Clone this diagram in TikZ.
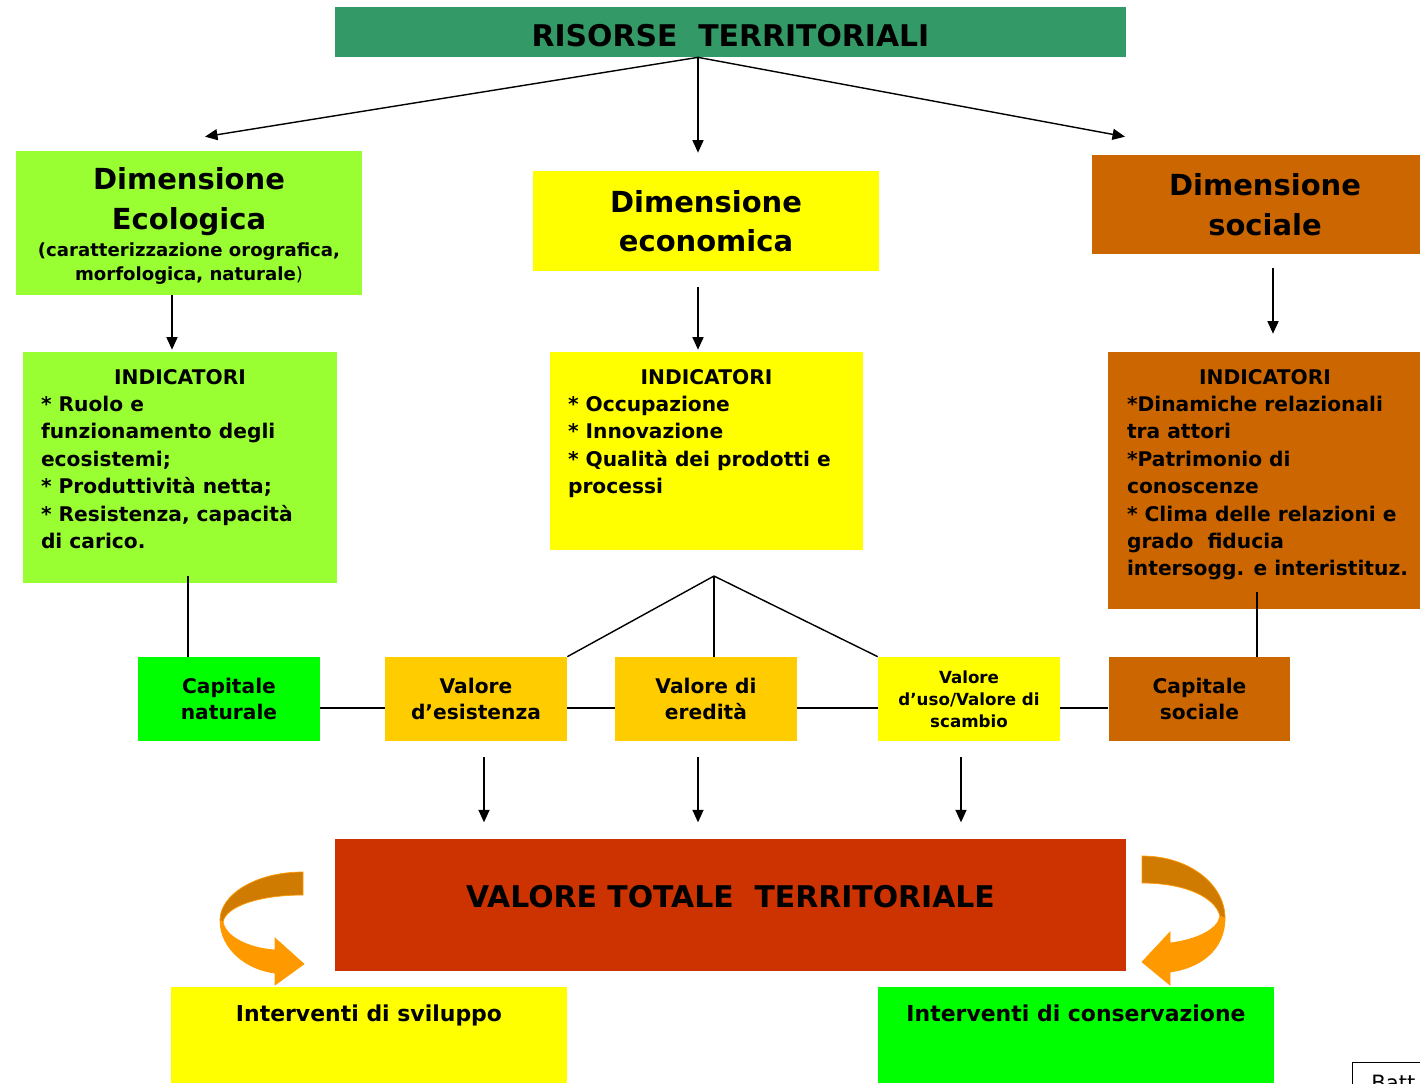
\documentclass[tikz,border=0pt]{standalone}
\usepackage{fontspec}
\setmainfont{DejaVu Sans}
\usetikzlibrary{calc,arrows.meta}
\definecolor{titlegreen}{HTML}{339966}
\definecolor{ecogreen}{HTML}{99FF33}
\definecolor{ecoyellow}{HTML}{FFFF00}
\definecolor{socbrown}{HTML}{CC6600}
\definecolor{natgreen}{HTML}{00FF00}
\definecolor{valorange}{HTML}{FFCC00}
\definecolor{totred}{HTML}{CC3300}
\definecolor{banddark}{HTML}{CF7A00}
\definecolor{bandlight}{HTML}{FF9900}
\tikzset{
	box/.style={rectangle, inner sep=0pt, align=center, font=\bfseries\fontsize{11.5}{14.7}\selectfont},
	txt/.style={inner sep=0pt, align=center, font=\bfseries\fontsize{11.5}{14.7}\selectfont},
	bigtxt/.style={font=\bfseries\fontsize{17}{22}\selectfont},
	dimtxt/.style={font=\bfseries\fontsize{16.5}{22.5}\selectfont},
	subtxt/.style={font=\bfseries\fontsize{10.3}{13.8}\selectfont},
	listtxt/.style={inner sep=0pt, align=left, font=\bfseries\fontsize{11.5}{15.6}\selectfont},
	link/.style={line width=0.8pt},
	arr/.style={line width=0.8pt, -{Triangle[length=0.25cm,width=0.22cm]}},
	band/.style={draw=bandlight, line width=0.4pt}
}

\begin{document}
\begin{tikzpicture}[x=0.02cm, y=-0.02cm]
	%%%%% START %%%%%
	\useasboundingbox (0,0) rectangle (1420,1083);
	\clip (0,0) rectangle (1420,1083);
	
	\node[box, fill=titlegreen, minimum width=15.82cm, minimum height=1cm] (title) at (730.5,32) {};
	\node[txt, bigtxt] (titlet) at ($(title.center)+(0,4)$) {RISORSE\ \ TERRITORIALI};
	
	\node[box, fill=ecogreen, minimum width=6.92cm, minimum height=2.88cm] (dimeco) at (189,223) {};
	\node[txt, dimtxt] (dimecot) at ($(dimeco.north)+(0,51)$) {Dimensione\\Ecologica};
	\node[txt, subtxt] (dimecos) at ($(dimeco.north)+(0,113)$) {(caratterizzazione orografica,\\morfologica, naturale{\mdseries)}};
	
	\node[box, fill=ecoyellow, minimum width=6.92cm, minimum height=2cm] (dimecon) at (706,221) {};
	\node[txt, dimtxt] (dimecont) at (dimecon.center) {Dimensione\\economica};
	
	\node[box, fill=socbrown, minimum width=6.92cm, minimum height=1.98cm] (dimsoc) at (1265,204.5) {};
	\node[txt, dimtxt] (dimsoct) at (dimsoc.center) {Dimensione\\sociale};
	
	%%%%% INDICATORI %%%%%
	\node[box, fill=ecogreen, minimum width=6.28cm, minimum height=4.62cm] (indeco) at (180,467.5) {};
	\node[txt, anchor=north] (indecoh) at ($(indeco.north)+(0,17)$) {INDICATORI};
	\node[listtxt, anchor=north west] (indecol) at ($(indeco.north west)+(18,44)$)
		{* Ruolo e\\funzionamento degli\\ecosistemi;\\* Produttività netta;\\* Resistenza, capacità\\di carico.};
	
	\node[box, fill=ecoyellow, minimum width=6.26cm, minimum height=3.96cm] (indecon) at (706.5,451) {};
	\node[txt, anchor=north] (indeconh) at ($(indecon.north)+(0,17)$) {INDICATORI};
	\node[listtxt, anchor=north west] (indeconl) at ($(indecon.north west)+(18,44)$)
		{* Occupazione\\* Innovazione\\* Qualità dei prodotti e\\processi};
	
	\node[box, fill=socbrown, minimum width=6.28cm, minimum height=5.14cm] (indsoc) at (1265,480.5) {};
	\node[txt, anchor=north] (indsoch) at ($(indsoc.north)+(0,17)$) {INDICATORI};
	\node[listtxt, anchor=north west] (indsocl) at ($(indsoc.north west)+(19,44)$)
		{*Dinamiche relazionali\\tra attori\\*Patrimonio di\\conoscenze\\* Clima delle relazioni e\\grado\ \ fiducia\\intersogg. e interistituz.};
	
	%%%%% CAPITALE E VALORI %%%%%
	\node[box, fill=natgreen, minimum width=3.64cm, minimum height=1.68cm] (capnat) at (229,699) {Capitale\\naturale};
	\node[box, fill=valorange, minimum width=3.64cm, minimum height=1.68cm] (valesi) at (476,699) {Valore\\d’esistenza};
	\node[box, fill=valorange, minimum width=3.64cm, minimum height=1.68cm] (valere) at (706,699) {Valore di\\eredità};
	\node[box, fill=ecoyellow, minimum width=3.64cm, minimum height=1.68cm, font=\bfseries\fontsize{9.5}{12.5}\selectfont] (valuso) at (969,699) {Valore\\d’uso/Valore di\\scambio};
	\node[box, fill=socbrown, minimum width=3.64cm, minimum height=1.68cm] (capsoc) at (1199.5,699) {Capitale\\sociale};
	
	\node[box, fill=totred, minimum width=15.82cm, minimum height=2.64cm] (valtot) at (730.5,905) {};
	\node[txt, bigtxt] (valtott) at ($(valtot.center)+(0,-8)$) {VALORE TOTALE\ \ TERRITORIALE};
	
	\node[box, fill=ecoyellow, minimum width=7.92cm, minimum height=1.92cm] (intsvi) at (369,1035) {};
	\node[txt, anchor=north, font=\bfseries\fontsize{12.5}{15}\selectfont] (intsvit) at ($(intsvi.north)+(0,18)$) {Interventi di sviluppo};
	\node[box, fill=natgreen, minimum width=7.92cm, minimum height=1.92cm] (intcon) at (1076,1035) {};
	\node[txt, anchor=north, font=\bfseries\fontsize{12.5}{15}\selectfont] (intcont) at ($(intcon.north)+(0,18)$) {Interventi di conservazione};
	
	\node[draw, line width=0.8pt, inner sep=0pt, minimum width=1.8cm, minimum height=1cm, anchor=north west] (batt) at (1352,1062) {};
	\node[inner sep=0pt, anchor=north west, font=\fontsize{12}{14}\selectfont] (battt) at ($(batt.north west)+(19,13)$) {Batt};
	
	%%%%% FRECCE %%%%%
	\coordinate (top) at ($(title.south)+(-32.5,0)$);
	\draw[arr] (top) -- ($(dimeco.north)+(16,-14)$);
	\draw[arr] (top) -- ($(dimecon.north)+(-8,-18)$);
	\draw[arr] (top) -- ($(dimsoc.north)+(-140,-18)$);
	
	\draw[arr] ($(dimeco.south)+(-17,0)$) -- ($(indeco.north)+(-8,-2)$);
	\draw[arr] ($(dimecon.south)+(-8,16)$) -- ($(indecon.north)+(-8.5,-2)$);
	\draw[arr] ($(dimsoc.south)+(8,14)$) -- ($(indsoc.north)+(8,-18)$);
	
	\draw[link] ($(capnat.north)+(-41,-81)$) -- ($(capnat.north)+(-41,0)$);
	\draw[link] ($(capsoc.north)+(57.5,-65)$) -- ($(capsoc.north)+(57.5,0)$);
	
	\coordinate (apex) at (714,576);
	\draw[link] (apex) -- (valesi.north east);
	\draw[link] (apex) -- ($(valere.north)+(8,0)$);
	\draw[link] (apex) -- (valuso.north west);
	
	\draw[link] ($(capnat.east)+(0,9)$) -- ($(valesi.west)+(0,9)$);
	\draw[link] ($(valesi.east)+(0,9)$) -- ($(valere.west)+(0,9)$);
	\draw[link] ($(valere.east)+(0,9)$) -- ($(valuso.west)+(0,9)$);
	\draw[link] ($(valuso.east)+(0,9)$) -- ($(capsoc.west)+(0,9)$);
	
	\draw[arr] ($(valesi.south)+(8,16)$) -- ($(valesi.south)+(8,81)$);
	\draw[arr] ($(valere.south)+(-8,16)$) -- ($(valere.south)+(-8,81)$);
	\draw[arr] ($(valuso.south)+(-8,16)$) -- ($(valuso.south)+(-8,81)$);
	
	%%%%% FRECCE CURVE %%%%%
	\draw[band, fill=bandlight] (220,920) .. controls (220,950) and (248,970) .. (275,973) -- (275,985) -- (304,964) -- (275,938) -- (275,950) .. controls (248,948) and (226,937) .. (223,922) -- cycle;
	\draw[band, fill=banddark] (303,872) .. controls (255,872) and (220,895) .. (220,920) -- (223,922) .. controls (226,906) and (260,895) .. (303,895) -- cycle;
	
	\draw[band, fill=bandlight] (1225,918) .. controls (1225,950) and (1200,968) .. (1170,972) -- (1170,985) -- (1142,962) -- (1170,932) -- (1170,943) .. controls (1195,940) and (1218,930) .. (1220,916) -- cycle;
	\draw[band, fill=banddark] (1142,856) .. controls (1190,856) and (1225,885) .. (1225,918) -- (1220,916) .. controls (1215,897) and (1185,883) .. (1142,883) -- cycle;
	
	%%%%% END %%%%%
\end{tikzpicture}
\end{document}
